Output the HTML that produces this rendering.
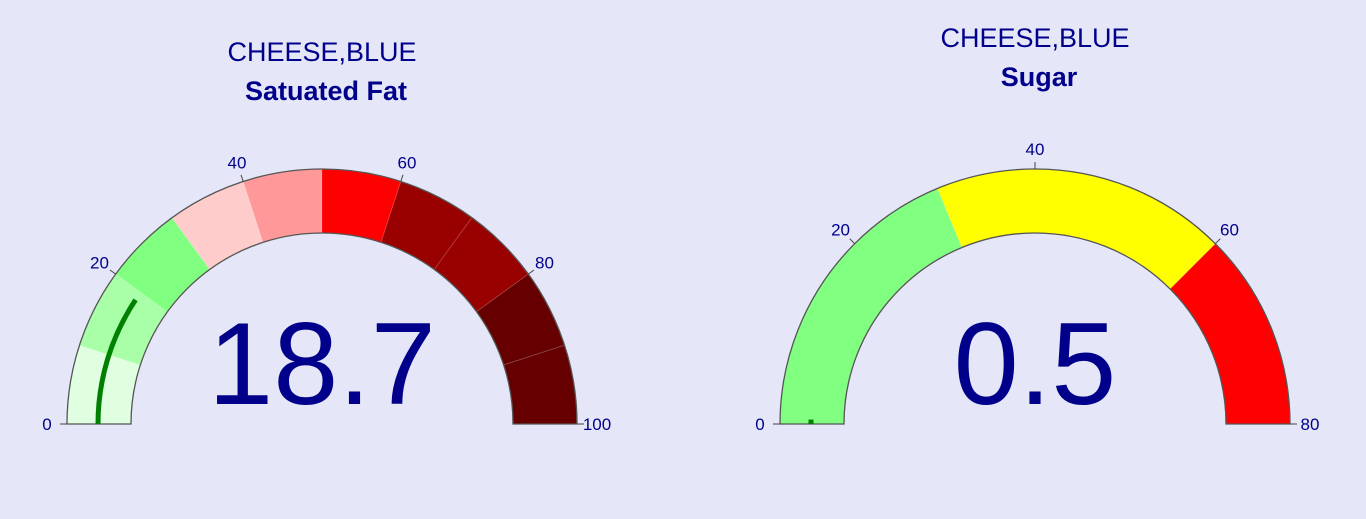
<!DOCTYPE html>
<html><head><meta charset="utf-8"><style>
body{margin:0;background:#e5e6f8;font-family:"Liberation Sans",sans-serif;}
svg{display:block}
</style></head><body>
<svg width="1366" height="519">
<rect width="1366" height="519" fill="#e5e6f8"/>
<g id="g1"></g>
<g id="g2"></g>
</svg>
<script>
const g1Steps=[0,10,20,30,40,50,60,70,80,90,100];
const g1Colors=["#e0ffe0","#a8ffa8","#80ff80","#ffcccc","#ff9999","#ff0000","#990000","#990000","#660000","#660000"];
const g1Ticks=[0,20,40,60,80,100];
const g1Value=18.7;
const g2Steps=[0,30,60,80];
const g2Colors=["#80ff80","#ffff00","#ff0000"];
const g2Ticks=[0,20,40,60,80];
const g2Value=0.5;
const NS="http://www.w3.org/2000/svg";
function mk(t,a,p){const e=document.createElementNS(NS,t);for(const k in a)e.setAttribute(k,a[k]);p.appendChild(e);return e;}
function draw(gid,cx,cy,max,steps,colors,ticks,value,title,sub){
 const g=document.getElementById(gid),R=255,r=191;
 const ang=v=>Math.PI*(1-v/max);
 const pt=(v,rad)=>[cx+rad*Math.cos(ang(v)),cy-rad*Math.sin(ang(v))];
 for(let i=0;i<colors.length;i++){
  const a=steps[i],b=steps[i+1];
  const [x1,y1]=pt(a,R),[x2,y2]=pt(b,R),[x3,y3]=pt(b,r),[x4,y4]=pt(a,r);
  const p=mk('path',{d:`M${x1},${y1}A${R},${R} 0 0 1 ${x2},${y2}L${x3},${y3}A${r},${r} 0 0 0 ${x4},${y4}Z`,fill:colors[i],stroke:'rgba(255,255,255,0.12)','stroke-width':1},g);
  
  
 }
 const o=mk('path',{d:`M${cx-R},${cy}A${R},${R} 0 0 1 ${cx+R},${cy}L${cx+r},${cy}A${r},${r} 0 0 0 ${cx-r},${cy}Z`,fill:'none',stroke:'#555','stroke-width':1.3},g);
 
 
 const br=224,[bx1,by1]=pt(0,br),[bx2,by2]=pt(value,br);
 const bar=mk('path',{d:`M${bx1},${by1}A${br},${br} 0 0 1 ${bx2},${by2}`,fill:'none',stroke:'#008000','stroke-width':5},g);
 
 
 ticks.forEach(t=>{
  const [a1,b1]=pt(t,R),[a2,b2]=pt(t,R+7),[lx,ly]=pt(t,R+20);
  const tl=mk('line',{x1:a1,y1:b1,x2:a2,y2:b2,stroke:'#444','stroke-width':1},g);
  
  
  const tx=mk('text',{x:lx,y:ly+6,'text-anchor':'middle','font-size':17,fill:'#00008b'},g);
  tx.textContent=t;
  
  
 });
 const v=mk('text',{x:cx,y:cy-20,'text-anchor':'middle','font-size':117,fill:'#00008b'},g);
 v.textContent=value;
 
 
 const t1=mk('text',{x:cx,y:title[1],'text-anchor':'middle','font-size':27,fill:'#00008b'},g);
 t1.textContent=title[0];
 
 
 const t2=mk('text',{x:cx+4,y:title[1]+39,'text-anchor':'middle','font-size':27,'font-weight':'bold',fill:'#00008b'},g);
 t2.textContent=sub;
 
 
}
draw('g1',322,424,100,g1Steps,g1Colors,g1Ticks,g1Value,["CHEESE,BLUE",61],"Satuated Fat");
draw('g2',1035,424,80,g2Steps,g2Colors,g2Ticks,g2Value,["CHEESE,BLUE",47],"Sugar");
</script>
</body></html>
